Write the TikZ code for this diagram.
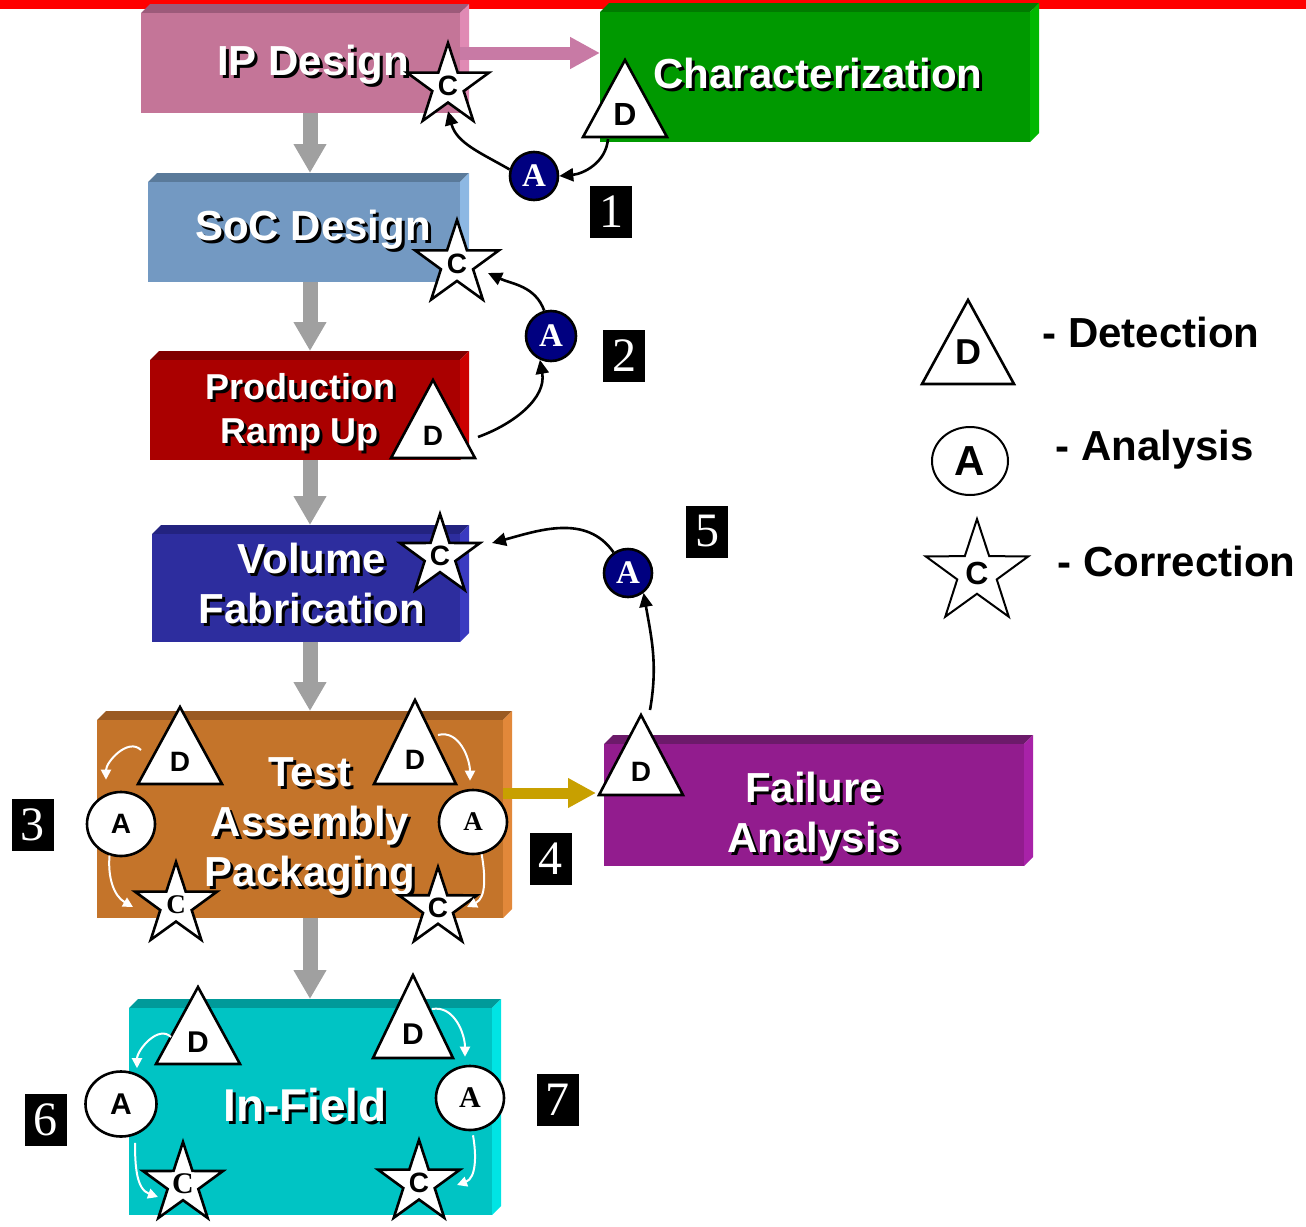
\documentclass[tikz,border=0pt]{standalone}
\usepackage{fontspec}
\setmainfont{Liberation Sans}
\newfontfamily\timesfont{Liberation Serif}
\usetikzlibrary{shapes.geometric,arrows.meta}

\definecolor{topred}{HTML}{FF0000}
\definecolor{ipfront}{HTML}{C47598}\definecolor{iptop}{HTML}{9C5A7A}\definecolor{ipside}{HTML}{E08AB4}
\definecolor{chfront}{HTML}{009900}\definecolor{chtop}{HTML}{007A00}\definecolor{chside}{HTML}{00B800}
\definecolor{socfront}{HTML}{7399C2}\definecolor{soctop}{HTML}{5A7A9A}\definecolor{socside}{HTML}{8DB8E3}
\definecolor{prfront}{HTML}{AA0000}\definecolor{prtop}{HTML}{800000}\definecolor{prside}{HTML}{CC0000}
\definecolor{volfront}{HTML}{2D2D9E}\definecolor{voltop}{HTML}{232380}\definecolor{volside}{HTML}{3A3AC0}
\definecolor{tapfront}{HTML}{C4742A}\definecolor{taptop}{HTML}{9A5A22}\definecolor{tapside}{HTML}{E2883A}
\definecolor{fafront}{HTML}{921C8E}\definecolor{fatop}{HTML}{6C1A6A}\definecolor{faside}{HTML}{A822A8}
\definecolor{inffront}{HTML}{00C4C4}\definecolor{inftop}{HTML}{009A9A}\definecolor{infside}{HTML}{00E4E4}
\definecolor{anavy}{HTML}{000080}
\definecolor{flowgray}{HTML}{A0A0A0}
\definecolor{pinkflow}{HTML}{C87AA5}
\definecolor{goldflow}{HTML}{C8A000}

\tikzset{
  slabface/.style={inner sep=0pt, outer sep=0pt},
  symline/.style={draw=black, line width=2.6pt, fill=white},
  dtext/.style={font=\bfseries\fontsize{30}{30}\selectfont},
  cmark/.style={star, star points=5, star point ratio=2.6, minimum size=86pt,
    inner sep=0pt, symline, font=\bfseries\fontsize{28}{28}\selectfont},
  amark/.style={circle, fill=anavy, draw=black, line width=2.6pt, minimum size=48pt,
    inner sep=0pt, text=white, font=\timesfont\bfseries\fontsize{33}{33}\selectfont},
  wamark/.style={ellipse, symline, minimum width=68pt, minimum height=64pt,
    inner sep=0pt, font=\bfseries\fontsize{28}{28}\selectfont},
  serifletter/.style={font=\timesfont\bfseries\fontsize{27}{27}\selectfont},
  numbox/.style={fill=black, text=white, minimum width=42pt, minimum height=52pt,
    inner sep=0pt, font=\timesfont\fontsize{48}{48}\selectfont},
  boxtext/.style={text=white, align=center, anchor=base,
    font=\bfseries\fontsize{42}{50}\selectfont},
  legtext/.style={anchor=base west, font=\bfseries\fontsize{42}{50}\selectfont},
  flow/.style={line width=15pt, draw=flowgray, -{Triangle[length=29pt,width=31pt]}},
  cyc/.style={line width=2.6pt, -{Triangle[length=14pt,width=13pt]}},
  incyc/.style={draw=white, line width=2pt, -{Triangle[length=10pt,width=10pt]}}
}

% 3d block: name, x1, y1, x2, y2, front, top, side
\newcommand{\slab}[8]{%
  \fill[#7] (#2,#3) -- ++(9,9) -- (#4+9,#3+9) -- (#4,#3) -- cycle;
  \fill[#8] (#4,#3) -- ++(9,9) -- (#4+9,#5+9) -- (#4,#5) -- cycle;
  \node[slabface, fill=#6, minimum width={(#4-#2)*1pt}, minimum height={((#3)-(#5))*1pt}]
    (#1) at ({(#2+#4)/2},{((#3)+(#5))/2}) {};
  \coordinate (#1-top) at (#2,#3+9);}

% white label with black drop shadow (base = last line)
\newcommand{\shtext}[5][]{%
  \node[boxtext,#1,text=black] at (#3+3,#4-3) {#5};
  \node[boxtext,#1] (#2) at (#3,#4) {#5};}

% detection triangle: [label opts] name, apex x, apex y, half base, height
\newcommand{\dmark}[6][]{%
  \node[inner sep=0pt, outer sep=0pt, minimum width={2*#5*1pt}, minimum height={#6*1pt}]
    (#2) at (#3,{#4-#6/2}) {};
  \draw[symline] (#2.north) -- (#2.south west) -- (#2.south east) -- cycle;
  \node[dtext,#1] (#2-t) at (#3,{#4-0.71*#6}) {D};}

\begin{document}
\begin{tikzpicture}[x=1pt,y=1pt]
  \useasboundingbox (0,0) rectangle (1306,-1226);
  \fill[topred] (0,0) rectangle (1306,-9);

  % process blocks
  \slab{ip}{141}{-13}{460}{-113}{ipfront}{iptop}{ipside}
  \slab{char}{600}{-12}{1030}{-142}{chfront}{chtop}{chside}
  \slab{soc}{148}{-182}{460}{-282}{socfront}{soctop}{socside}
  \slab{prod}{150}{-360}{460}{-460}{prfront}{prtop}{prside}
  \slab{vol}{152}{-534}{460}{-642}{volfront}{voltop}{volside}
  \slab{tap}{97}{-720}{503}{-918}{tapfront}{taptop}{tapside}
  \slab{fa}{604}{-744}{1024}{-866}{fafront}{fatop}{faside}
  \slab{inf}{129}{-1008}{492}{-1215}{inffront}{inftop}{infside}

  % flow between blocks
  \coordinate (ax) at (310,0);
  \foreach \a/\b in {ip/soc,soc/prod,prod/vol,vol/tap,tap/inf}
    \draw[flow] (\a.south -| ax) -- (\b-top -| ax);
  \coordinate (pk) at ([yshift=10pt]ip.east);
  \draw[line width=13pt, draw=pinkflow, -{Triangle[length=30pt,width=30pt]}]
    (pk) -- (pk -| char.west);
  \coordinate (gd) at ([yshift=26pt]tap.east);
  \draw[line width=11pt, draw=goldflow, -{Triangle[length=28pt,width=28pt]}, shorten >=8pt]
    (gd) -- (gd -| fa.west);

  % block titles
  \shtext{iptx}{313}{-75}{IP Design}
  \shtext{chtx}{818}{-88}{Characterization}
  \shtext{soctx}{313}{-240}{SoC Design}
  \shtext[font=\bfseries\fontsize{36}{44}\selectfont]{prtx}{300}{-443}{Production\\Ramp Up}
  \shtext{voltx}{312}{-623}{Volume\\Fabrication}
  \shtext{taptx}{310}{-886}{Test\\Assembly\\Packaging}
  \shtext{fatx}{814}{-852}{Failure\\Analysis}
  \shtext[font=\bfseries\fontsize{46}{50}\selectfont]{inftx}{305}{-1121}{In-Field}

  % loop 1
  \node[cmark] (ipC) at (448,-86) {C};
  \dmark[font=\bfseries\fontsize{32}{32}\selectfont]{chD}{625}{-60}{42}{77}
  \node[amark] (a1) at (534,-176) {A};
  \draw[cyc] ([shift={(-17,-2)}]chD.south) to[out=-95,in=5] (a1.east);
  \draw[cyc] (a1.165) to[out=150,in=-75] ([yshift=-7pt]ipC.south);
  \node[numbox] (n1) at (611,-211.5) {1};

  % loop 2
  \node[cmark,minimum size=88pt] (socC) at (457,-264) {C};
  \dmark[font=\bfseries\fontsize{28}{28}\selectfont]{prD}{433}{-380}{42}{78}
  \node[amark,minimum size=50pt] (a2) at (551,-336) {A};
  \draw[cyc] ([shift={(3,21)}]prD.south east) to[out=20,in=-80] (a2.-115);
  \draw[cyc] (a2.105) to[out=110,in=-25] ([shift={(31,-9)}]socC.center);
  \node[numbox] (n2) at (624,-355.5) {2};

  % loop 5
  \node[cmark,minimum size=84pt] (volC) at (440,-556) {C};
  \dmark[font=\bfseries\fontsize{28}{28}\selectfont]{faD}{641}{-715}{42}{80}
  \node[amark] (a3) at (628,-573) {A};
  \draw[cyc] ([shift={(9,5)}]faD.north) to[out=80,in=-80] (a3.-52);
  \draw[cyc] (a3.125) to[out=125,in=15] ([shift={(52,13)}]volC.center);
  \node[numbox] (n5) at (707,-531.5) {5};

  % loops 3 and 4
  \dmark[font=\bfseries\fontsize{28}{28}\selectfont]{tlD}{180}{-707}{42}{77}
  \dmark[font=\bfseries\fontsize{28}{28}\selectfont]{trD}{415}{-700}{41}{84}
  \node[wamark] (tlA) at (121,-824) {A};
  \node[wamark,serifletter] (trA) at (473,-822) {A};
  \node[cmark,serifletter] (tlC) at (176,-905) {C};
  \node[cmark,minimum size=82pt] (trC) at (438,-908) {C};
  \draw[incyc] ([shift={(3,34)}]tlD.south west) to[out=135,in=90] ([shift={(-15,11)}]tlA.north);
  \draw[incyc] (tlA.-110) to[out=-95,in=150] ([shift={(-43,-2)}]tlC.center);
  \draw[incyc] ([shift={(23,-35)}]trD.north) to[out=15,in=90] ([shift={(-3,8)}]trA.north);
  \draw[incyc] (trA.-75) to[out=-80,in=25] ([shift={(29,1)}]trC.center);
  \node[numbox] (n3) at (32.5,-825) {3};
  \node[numbox] (n4) at (550.5,-858.5) {4};

  % loops 6 and 7
  \dmark{ilD}{198}{-987}{42}{77}
  \dmark{irD}{413}{-975}{40}{83}
  \node[wamark,minimum width=71pt,minimum height=65pt,font=\bfseries\fontsize{30}{30}\selectfont] (ilA) at (121,-1104) {A};
  \node[wamark,font=\timesfont\bfseries\fontsize{30}{30}\selectfont] (irA) at (470,-1098) {A};
  \node[cmark,minimum size=84pt,font=\timesfont\bfseries\fontsize{30}{30}\selectfont] (ilC) at (183,-1184) {C};
  \node[cmark,minimum size=86pt] (irC) at (419,-1183) {C};
  \draw[incyc] ([shift={(-27,-50)}]ilD.north) to[out=135,in=90] ([shift={(16,2)}]ilA.north);
  \draw[incyc] ([shift={(14,-5)}]ilA.south) to[out=-90,in=160] ([shift={(-25,-13)}]ilC.center);
  \draw[incyc] ([shift={(19,-34)}]irD.north) to[out=10,in=90] ([shift={(-5,8)}]irA.north);
  \draw[incyc] ([shift={(3,-4)}]irA.south) to[out=-80,in=20] ([shift={(38,-2)}]irC.center);
  \node[numbox] (n6) at (45.5,-1120) {6};
  \node[numbox] (n7) at (557.5,-1099.5) {7};

  % legend
  \dmark[font=\bfseries\fontsize{36}{36}\selectfont,yshift=8pt]{lgD}{968}{-300}{46}{84}
  \node[wamark,line width=2pt,minimum width=76pt,minimum height=68pt,font=\bfseries\fontsize{42}{42}\selectfont] (lgA) at (970,-461) {A};
  \node[cmark,line width=2pt,minimum size=108pt,font=\bfseries\fontsize{32}{32}\selectfont] (lgC) at (977,-573) {C};
  \node[legtext] (lgDt) at (1039,-347) {- Detection};
  \node[legtext] (lgAt) at (1052,-460) {- Analysis};
  \node[legtext] (lgCt) at (1054,-576) {- Correction};
\end{tikzpicture}
\end{document}
